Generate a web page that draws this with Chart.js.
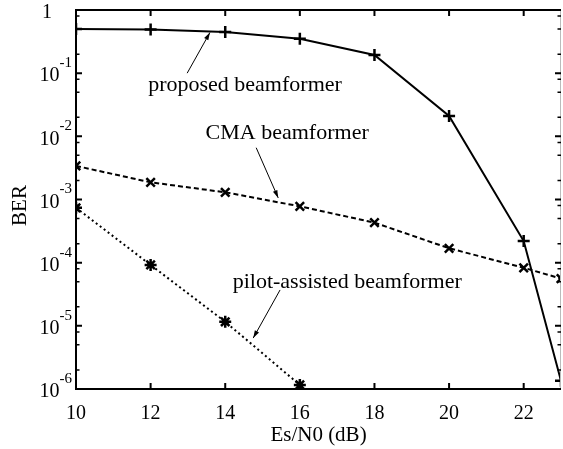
<!DOCTYPE html>
<html>
<head>
<meta charset="utf-8">
<script src="https://cdn.jsdelivr.net/npm/chart.js@4/dist/chart.umd.min.js"></script>
<style>
  html, body { margin: 0; padding: 0; background: #fff; }
  #wrap { width: 563px; height: 449px; }
</style>
</head>
<body>
<div id="wrap"><canvas id="berChart" width="563" height="449"></canvas></div>
<script>
// -------------------------
// DATA
// -------------------------
const proposedSnr = [10, 12, 14, 16, 18, 20, 22, 23];
const proposedBer = [0.50, 0.49, 0.45, 0.35, 0.194, 0.021, 2.2e-4, 1.35e-6];

const cmaSnr = [10, 12, 14, 16, 18, 20, 22, 23];
const cmaBer = [3.4e-3, 1.87e-3, 1.30e-3, 7.8e-4, 4.3e-4, 1.69e-4, 8.3e-5, 5.6e-5];

const pilotSnr = [10, 12, 14, 16];
const pilotBer = [7.4e-4, 9.2e-5, 1.16e-5, 1.16e-6];

const xTicks = [10, 12, 14, 16, 18, 20, 22];
const yTicks = [1, 1e-1, 1e-2, 1e-3, 1e-4, 1e-5, 1e-6];
const yTickLabels = ["1", "10|-1", "10|-2", "10|-3", "10|-4", "10|-5", "10|-6"];
const yMinorSteps = [2, 5, 8];

// annotation text + arrow (tail -> head), in data coordinates
const notes = [
    { text: "proposed beamformer", at: [14.53, 0.065], from: [12.98, 0.10], to: [13.59, 0.44] },
    { text: "CMA beamformer", at: [15.66, 0.0113], from: [14.83, 6.6e-3], to: [15.42, 1.06e-3] },
    { text: "pilot-assisted beamformer", at: [17.27, 4.9e-5], from: [15.47, 3.7e-5], to: [14.75, 6.4e-6] }
];

function toPoints(xs, ys) {
    return xs.map((x, i) => ({ x: x, y: ys[i] }));
}

const SERIF = "'Liberation Serif', 'Times New Roman', serif";

// -------------------------
// AXES, TICKS, LABELS, NOTES
// -------------------------
const framePlugin = {
    id: "frame",
    afterDatasetsDraw(chart) {
        const ctx = chart.ctx;
        const a = chart.chartArea;
        const xs = chart.scales.x;
        const ys = chart.scales.y;

        ctx.save();
        ctx.strokeStyle = "#000";
        ctx.fillStyle = "#000";

        // box
        ctx.lineWidth = 2;
        ctx.beginPath();
        ctx.moveTo(a.right, a.top);
        ctx.lineTo(a.left, a.top);
        ctx.lineTo(a.left, a.bottom);
        ctx.lineTo(a.right, a.bottom);
        ctx.stroke();
        ctx.strokeStyle = "#bbb";
        ctx.lineWidth = 1;
        ctx.beginPath();
        ctx.moveTo(a.right - 0.5, a.top);
        ctx.lineTo(a.right - 0.5, a.bottom);
        ctx.stroke();
        ctx.strokeStyle = "#000";

        // x ticks (bottom and top, inward)
        ctx.lineWidth = 2;
        xTicks.forEach(v => {
            const px = xs.getPixelForValue(v);
            ctx.beginPath();
            ctx.moveTo(px, a.bottom);
            ctx.lineTo(px, a.bottom - 6);
            ctx.moveTo(px, a.top);
            ctx.lineTo(px, a.top + 6);
            ctx.stroke();
        });

        // y ticks, major and minor (left and right, inward)
        yTicks.forEach(v => {
            const py = ys.getPixelForValue(v);
            ctx.lineWidth = 2;
            ctx.beginPath();
            ctx.moveTo(a.left, py);
            ctx.lineTo(a.left + 6, py);
            ctx.moveTo(a.right, py);
            ctx.lineTo(a.right - 6, py);
            ctx.stroke();
            if (v < 1) {
                yMinorSteps.forEach(m => {
                    const my = ys.getPixelForValue(v * m);
                    ctx.lineWidth = 1.5;
                    ctx.beginPath();
                    ctx.moveTo(a.left, my);
                    ctx.lineTo(a.left + 3.5, my);
                    ctx.moveTo(a.right, my);
                    ctx.lineTo(a.right - 3.5, my);
                    ctx.stroke();
                });
            }
        });

        // x tick labels
        ctx.font = "20px " + SERIF;
        ctx.textAlign = "center";
        ctx.textBaseline = "middle";
        xTicks.forEach(v => {
            ctx.fillText(String(v), xs.getPixelForValue(v), a.bottom + 25);
        });

        // y tick labels with superscript exponent
        yTicks.forEach((v, i) => {
            const py = ys.getPixelForValue(v);
            const parts = yTickLabels[i].split("|");
            if (parts.length === 1) {
                ctx.font = "20px " + SERIF;
                ctx.textAlign = "center";
                ctx.fillText(parts[0], 47, py + 3);
                return;
            }
            ctx.font = "15px " + SERIF;
            ctx.textAlign = "right";
            const expW = ctx.measureText(parts[1]).width;
            ctx.fillText(parts[1], 72, py - 10);
            ctx.font = "20px " + SERIF;
            ctx.fillText(parts[0], 72 - expW, py + 3);
        });

        // axis titles
        ctx.font = "21px " + SERIF;
        ctx.textAlign = "center";
        ctx.fillText("Es/N0 (dB)", (a.left + a.right) / 2, a.bottom + 46);
        ctx.save();
        ctx.translate(20, (a.top + a.bottom) / 2 + 6);
        ctx.rotate(-Math.PI / 2);
        ctx.fillText("BER", 0, 0);
        ctx.restore();

        // annotations with arrows
        notes.forEach(n => {
            ctx.font = "22px " + SERIF;
            ctx.textAlign = "center";
            ctx.fillText(n.text, xs.getPixelForValue(n.at[0]), ys.getPixelForValue(n.at[1]));

            const x1 = xs.getPixelForValue(n.from[0]);
            const y1 = ys.getPixelForValue(n.from[1]);
            const x2 = xs.getPixelForValue(n.to[0]);
            const y2 = ys.getPixelForValue(n.to[1]);
            const ang = Math.atan2(y2 - y1, x2 - x1);
            ctx.lineWidth = 1;
            ctx.beginPath();
            ctx.moveTo(x1, y1);
            ctx.lineTo(x2, y2);
            ctx.stroke();
            ctx.beginPath();
            ctx.moveTo(x2, y2);
            ctx.lineTo(x2 - 8 * Math.cos(ang - 0.3), y2 - 8 * Math.sin(ang - 0.3));
            ctx.lineTo(x2 - 8 * Math.cos(ang + 0.3), y2 - 8 * Math.sin(ang + 0.3));
            ctx.closePath();
            ctx.fill();
        });

        ctx.restore();
    }
};

// -------------------------
// CHART
// -------------------------
const ctx = document.getElementById("berChart").getContext("2d");

const chart = new Chart(ctx, {
    type: "line",
    data: {
        datasets: [
            {
                label: "proposed beamformer",
                data: toPoints(proposedSnr, proposedBer),
                borderColor: "#000",
                borderWidth: 2,
                pointStyle: "cross",
                pointRadius: 6,
                pointBorderWidth: 2.5,
                pointBorderColor: "#000",
                fill: false,
                tension: 0
            },
            {
                label: "CMA beamformer",
                data: toPoints(cmaSnr, cmaBer),
                borderColor: "#000",
                borderWidth: 2,
                borderDash: [5, 3],
                pointStyle: "crossRot",
                pointRadius: 6,
                pointBorderWidth: 2.5,
                pointBorderColor: "#000",
                fill: false,
                tension: 0
            },
            {
                label: "pilot-assisted beamformer",
                data: toPoints(pilotSnr, pilotBer),
                borderColor: "#000",
                borderWidth: 2,
                borderDash: [2, 3],
                pointStyle: "star",
                pointRadius: 6,
                pointBorderWidth: 2.5,
                pointBorderColor: "#000",
                fill: false,
                tension: 0
            }
        ]
    },
    options: {
        responsive: false,
        animation: false,
        layout: { autoPadding: false, padding: { left: 76, top: 10, right: 2, bottom: 60 } },
        plugins: {
            legend: { display: false },
            tooltip: { enabled: false }
        },
        scales: {
            x: { type: "linear", min: 10, max: 23, display: false },
            y: { type: "logarithmic", min: 1e-6, max: 1, display: false }
        }
    },
    plugins: [framePlugin]
});
</script>
</body>
</html>
